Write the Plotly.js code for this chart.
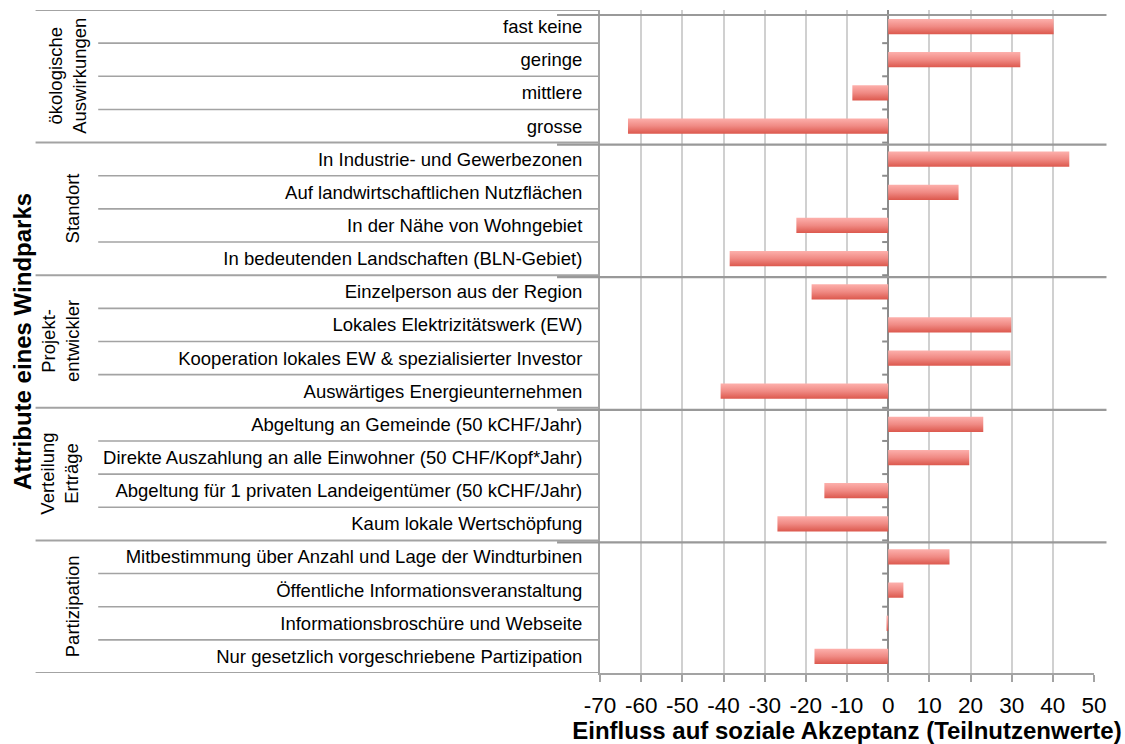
<!DOCTYPE html>
<html>
<head>
<meta charset="utf-8">
<script src="https://cdn.plot.ly/plotly-3.0.1.min.js"></script>
<style>
  html, body { margin: 0; padding: 0; background: #fff; }
  #chart { width: 1125px; height: 744px; }
</style>
</head>
<body>
<div id="chart"></div>
<script>
// ---- data ----
const groups = ["ökologische<br>Auswirkungen", "Standort", "Projekt-<br>entwickler", "Verteilung<br>Erträge", "Partizipation"];
const groupSizes = [4, 4, 4, 4, 4];
const attributes = [
  "fast keine",
  "geringe",
  "mittlere",
  "grosse",
  "In Industrie- und Gewerbezonen",
  "Auf landwirtschaftlichen Nutzflächen",
  "In der Nähe von Wohngebiet",
  "In bedeutenden Landschaften (BLN-Gebiet)",
  "Einzelperson aus der Region",
  "Lokales Elektrizitätswerk (EW)",
  "Kooperation lokales EW & spezialisierter Investor",
  "Auswärtiges Energieunternehmen",
  "Abgeltung an Gemeinde (50 kCHF/Jahr)",
  "Direkte Auszahlung an alle Einwohner (50 CHF/Kopf*Jahr)",
  "Abgeltung für 1 privaten Landeigentümer (50 kCHF/Jahr)",
  "Kaum lokale Wertschöpfung",
  "Mitbestimmung über Anzahl und Lage der Windturbinen",
  "Öffentliche Informationsveranstaltung",
  "Informationsbroschüre und Webseite",
  "Nur gesetzlich vorgeschriebene Partizipation"
];
const values = [40.2, 32.1, -8.7, -63.2, 44.0, 17.1, -22.3, -38.5, -18.6, 29.9, 29.7, -40.7, 23.1, 19.7, -15.5, -26.9, 14.9, 3.7, -0.4, -17.9];
const xTickVals = [-70, -60, -50, -40, -30, -20, -10, 0, 10, 20, 30, 40, 50];
const xTickText = ["-70", "-60", "-50", "-40", "-30", "-20", "-10", "0", "10", "20", "30", "40", "50"];
const xTitle = "Einfluss auf soziale Akzeptanz (Teilnutzenwerte)";
const yTitle = "Attribute eines Windparks";

// ---- layout helpers ----
const W = 1125, H = 744;
const M = { l: 600, r: 30.5, t: 10, b: 71.3 };
const plotW = W - M.l - M.r;
const plotH = H - M.t - M.b;
const pxToPaperX = px => (px - M.l) / plotW;
const FONT = "Liberation Sans, Arial, sans-serif";
const LINE = "#a3a3a3";

const n = attributes.length;
const rowPx = plotH / n;

const trace = {
  type: "bar",
  orientation: "h",
  y: attributes,
  x: values,
  marker: { color: "#ee8079", line: { width: 0 } },
  hoverinfo: "x+y"
};

const shapes = [];
const groupBounds = [0];
groupSizes.forEach((s, i) => groupBounds.push(groupBounds[i] + s));

for (let k = 0; k <= n; k++) {
  const isGroup = groupBounds.includes(k);
  // lines in the label area
  shapes.push({
    type: "line", xref: "paper", yref: "y",
    x0: pxToPaperX(isGroup ? 35 : 97.7), x1: 0,
    y0: k - 0.5, y1: k - 0.5,
    line: { color: LINE, width: isGroup ? 2 : 1.6 }
  });
  // short ticks at the zero line
  if (k > 0 && k < n) {
    shapes.push({
      type: "line", xref: "x", yref: "y",
      xsizemode: "pixel", xanchor: 0, x0: -6, x1: 0,
      y0: k - 0.5, y1: k - 0.5,
      line: { color: "#8c8c8c", width: 2 }
    });
  }
  // group lines across the plot area (drawn slightly lower, as in the original)
  if (isGroup && k < n) {
    const yy = k - 0.5 + (k === 0 ? 5 : 2) / rowPx;
    shapes.push({
      type: "line", xref: "paper", yref: "y",
      x0: pxToPaperX(557), x1: pxToPaperX(1107),
      y0: yy, y1: yy,
      line: { color: "#999999", width: 2.2 }
    });
  }
}

// group labels (rotated)
const groupLabelX = [67, 72, 60, 59, 72];
const annotations = [];
let start = 0;
groups.forEach((g, i) => {
  const mid = start + groupSizes[i] / 2 - 0.5;
  annotations.push({
    text: g, xref: "paper", yref: "y",
    x: pxToPaperX(groupLabelX[i]), y: mid,
    xanchor: "center", yanchor: "middle",
    textangle: -90, showarrow: false, align: "center",
    font: { family: FONT, size: 18.5, color: "#000" }
  });
  start += groupSizes[i];
});

const layout = {
  width: W, height: H,
  margin: M,
  paper_bgcolor: "#fff", plot_bgcolor: "#fff",
  showlegend: false,
  bargap: 0.54,
  font: { family: FONT, color: "#000" },
  xaxis: {
    range: [-70, 50],
    tickmode: "array", tickvals: xTickVals, ticktext: xTickText,
    showgrid: true, gridcolor: "#d0d0d0", gridwidth: 2,
    zeroline: true, zerolinecolor: "#8c8c8c", zerolinewidth: 2.5,
    showline: true, linecolor: LINE, linewidth: 2,
    ticks: "outside", ticklen: 7, tickwidth: 2, tickcolor: LINE,
    tickfont: { family: FONT, size: 22.5, color: "#000" },
    ticklabelstandoff: 4,
    title: { text: xTitle, font: { family: FONT, size: 24, color: "#000", weight: "bold" }, standoff: 6 },
    fixedrange: true
  },
  yaxis: {
    type: "category",
    range: [n - 0.5, -0.5],
    autorange: false,
    showgrid: false, zeroline: false,
    showline: true, linecolor: LINE, linewidth: 2,
    ticks: "",
    tickfont: { family: FONT, size: 18.5, color: "#000" },
    ticklabelstandoff: 12,
    title: { text: yTitle, font: { family: FONT, size: 24, color: "#000", weight: "bold" }, standoff: 65 },
    fixedrange: true
  },
  shapes: shapes,
  annotations: annotations
};

Plotly.newPlot("chart", [trace], layout, { displayModeBar: false, staticPlot: true }).then(gd => {
  // vertical gradient on the bars (light pink top to red bottom)
  const svg = gd.querySelector("svg.main-svg");
  const NS = "http://www.w3.org/2000/svg";
  let defs = svg.querySelector("defs");
  if (!defs) { defs = document.createElementNS(NS, "defs"); svg.insertBefore(defs, svg.firstChild); }
  const grad = document.createElementNS(NS, "linearGradient");
  grad.setAttribute("id", "barGrad");
  grad.setAttribute("x1", "0"); grad.setAttribute("y1", "0");
  grad.setAttribute("x2", "0"); grad.setAttribute("y2", "1");
  [["0", "#fdb0ac"], ["0.5", "#f08a84"], ["1", "#dc584d"]].forEach(([o, c]) => {
    const s = document.createElementNS(NS, "stop");
    s.setAttribute("offset", o); s.setAttribute("stop-color", c);
    grad.appendChild(s);
  });
  defs.appendChild(grad);
  gd.querySelectorAll("g.trace.bars path").forEach(p => { p.style.fill = "url(#barGrad)"; });
});
</script>
</body>
</html>
